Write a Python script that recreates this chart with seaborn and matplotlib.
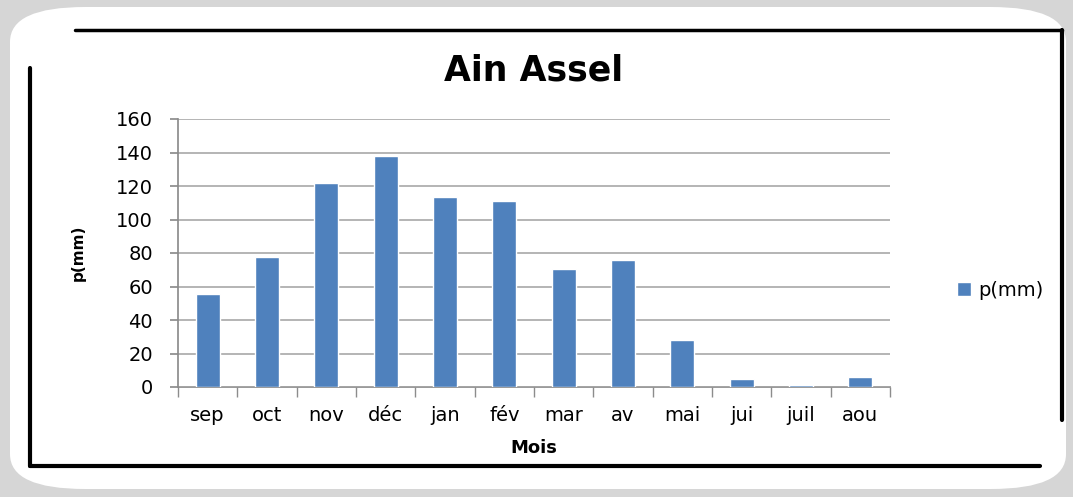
import numpy as np
import pandas as pd
import matplotlib
matplotlib.use("Agg")
import matplotlib.pyplot as plt
import seaborn as sns
from matplotlib.patches import FancyBboxPatch
from matplotlib.lines import Line2D

# --- données ---
mois = ["sep", "oct", "nov", "déc", "jan", "fév", "mar", "av", "mai", "jui", "juil", "aou"]
pluie = [55.5, 77.4, 121.8, 137.7, 113.2, 111.0, 70.6, 75.6, 28.3, 4.8, 1.2, 6.0]
yticks = [0, 20, 40, 60, 80, 100, 120, 140, 160]

df = pd.DataFrame({"Mois": mois, "p(mm)": pluie})

sns.set_theme(style="white")
plt.rcParams["font.family"] = ["DejaVu Sans"]
plt.rcParams["text.color"] = "black"
plt.rcParams["axes.labelcolor"] = "black"
plt.rcParams["xtick.labelcolor"] = "black"
plt.rcParams["ytick.labelcolor"] = "black"

fig = plt.figure(figsize=(10.73, 4.97), dpi=100)
fig.patch.set_facecolor("#d6d6d6")

# cadre blanc arrondi
W, H = 1073, 497
frame = FancyBboxPatch((10 / W, 8 / H), 1056 / W, 482 / H,
                       boxstyle="round,pad=0,rounding_size=0.07",
                       transform=fig.transFigure, facecolor="white",
                       edgecolor="none", zorder=-2)
fig.patches.append(frame)
# bordure noire
for xs, ys, lw in [((30, 30), (68, 466), 3), ((75, 1062), (30, 30), 2.5),
                   ((1062, 1062), (30, 420), 3), ((30, 1040), (466, 466), 3)]:
    fig.lines.append(Line2D([x / W for x in xs], [1 - y / H for y in ys],
                            transform=fig.transFigure, color="black", lw=lw, zorder=-1))

ax = fig.add_axes([178 / W, 1 - 387 / H, (890 - 178) / W, (387 - 119) / H])
ax.set_zorder(1)
ax.set_facecolor("white")
sns.barplot(data=df, x="Mois", y="p(mm)", color="#4f81bd", width=0.4,
            saturation=1, ax=ax, label="p(mm)")

ax.set_ylim(0, 160)
ax.set_xlim(-0.5, 11.5)
ax.set_yticks(yticks)
ax.yaxis.grid(True, color="#a8a8a8", lw=1.2)
ax.set_axisbelow(True)
for s in ["top", "right"]:
    ax.spines[s].set_visible(False)
ax.spines["left"].set_color("#8c8c8c")
ax.spines["bottom"].set_color("#8c8c8c")
ax.spines["bottom"].set_zorder(0.5)

ax.set_xticks(np.arange(-0.5, 12, 1), minor=True)
ax.tick_params(axis="x", which="major", length=0, labelsize=14, pad=14)
ax.tick_params(axis="x", which="minor", length=7, color="#8c8c8c", direction="out", bottom=True)
ax.tick_params(axis="y", length=6, color="#8c8c8c", direction="out", left=True, labelsize=14, pad=12)

ax.set_xlabel("Mois", fontsize=13, fontweight="bold", labelpad=10)
ax.set_ylabel("p(mm)", fontsize=11, fontweight="bold", labelpad=22)
ax.set_title("Ain Assel", fontsize=25, fontweight="bold", pad=28)

ax.legend(loc="center left", bbox_to_anchor=(1.07, 0.36), frameon=False,
          fontsize=14, handlelength=0.7, handleheight=0.7, handletextpad=0.4)

fig.savefig("out.png", dpi=100, facecolor=fig.get_facecolor())
